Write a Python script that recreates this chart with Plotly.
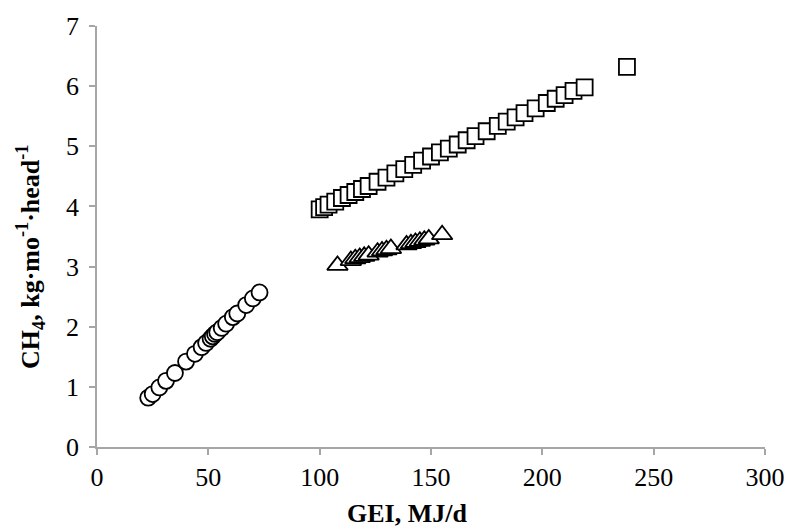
import plotly.graph_objects as go

circ_x = [23, 25, 28, 31, 35, 40, 44, 47, 49, 51, 52, 53, 54, 56, 58, 61, 63, 67, 70, 73]
circ_y = [0.82, 0.88, 0.99, 1.10, 1.23, 1.42, 1.55, 1.66, 1.73, 1.80, 1.84, 1.88, 1.91, 1.98, 2.05, 2.16, 2.22, 2.36, 2.47, 2.57]

sq_x = [100, 102, 104, 107, 110, 113, 116, 119, 122, 126, 130, 134, 138, 142, 146, 150, 154, 158,
        162, 166, 170, 175, 180, 184, 188, 192, 197, 202, 206, 210, 214, 219, 238]
sq_y = [3.95, 3.99, 4.03, 4.08, 4.14, 4.19, 4.24, 4.29, 4.34, 4.41, 4.48, 4.55, 4.62, 4.69, 4.76, 4.83, 4.90, 4.96,
        5.03, 5.10, 5.17, 5.25, 5.34, 5.41, 5.48, 5.55, 5.63, 5.72, 5.79, 5.85, 5.92, 5.98, 6.32]

tri_x = [108, 114, 116, 118, 120, 122, 126, 128, 130, 132, 139, 141, 143, 145, 147, 149, 155]
tri_y = [3.02, 3.10, 3.13, 3.15, 3.17, 3.19, 3.24, 3.26, 3.28, 3.30, 3.36, 3.38, 3.40, 3.42, 3.44, 3.46, 3.53]

x_ticks = [0, 50, 100, 150, 200, 250, 300]
y_ticks = [0, 1, 2, 3, 4, 5, 6, 7]

x_title = "<b>GEI, MJ/d</b>"
y_title = "<b>CH<sub>4</sub>, kg·mo<sup>-1</sup>·head<sup>-1</sup></b>"

line = dict(color="black", width=1.8)
fig = go.Figure()
fig.add_trace(go.Scatter(x=circ_x, y=circ_y, mode="markers",
                         marker=dict(symbol="circle", size=16, color="white", line=line)))
fig.add_trace(go.Scatter(x=sq_x, y=sq_y, mode="markers",
                         marker=dict(symbol="square", size=16, color="white", line=line)))
fig.add_trace(go.Scatter(x=tri_x, y=tri_y, mode="markers",
                         marker=dict(symbol="triangle-up", size=18, color="white", line=line)))

font = dict(family="Liberation Serif", size=26, color="black")
axis_common = dict(showgrid=False, zeroline=False, showline=True, linecolor="#a6a6a6", linewidth=1.5,
                   ticks="outside", tickcolor="#a6a6a6", ticklen=6, tickwidth=1.5, tickfont=font)
fig.update_layout(
    width=797, height=531, showlegend=False,
    plot_bgcolor="white", paper_bgcolor="white",
    margin=dict(l=97, r=30, t=18, b=84),
    font=font,
    xaxis=dict(range=[0, 300], tickvals=x_ticks, **axis_common),
    yaxis=dict(range=[0, 7], tickvals=y_ticks, ticklabelstandoff=5, **axis_common),
    annotations=[
        dict(text=x_title, xref="paper", yref="paper", x=0.464, y=-0.158,
             xanchor="center", yanchor="middle", showarrow=False, font=font),
        dict(text=y_title, xref="paper", yref="paper", x=-0.1, y=0.452, textangle=-90,
             xanchor="center", yanchor="middle", showarrow=False, font=font),
    ],
)
fig.write_html("out.html")
